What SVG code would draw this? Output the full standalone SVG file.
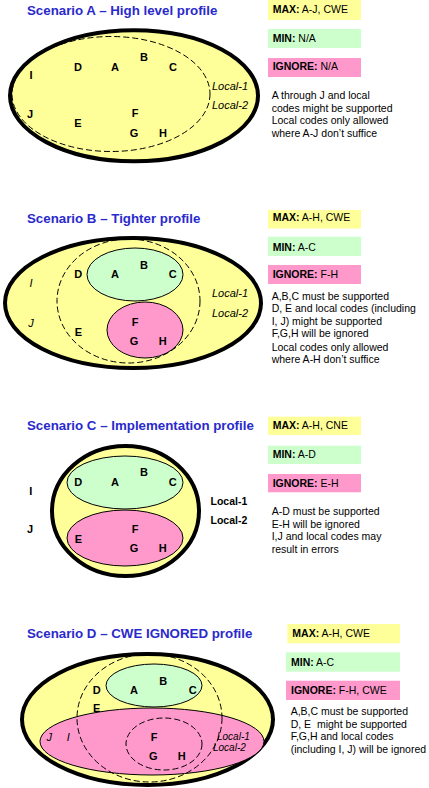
<svg xmlns="http://www.w3.org/2000/svg" width="429" height="788" viewBox="0 0 429 788">
<style>
text{font-family:"Liberation Sans",Arial,sans-serif;fill:#000}
.title{font-size:13.3px;font-weight:bold;fill:#2A2ACC}
.lt{font-size:11px;font-weight:bold;text-anchor:middle}
.it{font-size:11px;font-style:italic;font-weight:normal;text-anchor:middle}
.loc{font-size:11px;font-style:italic}
.locd{font-size:10px;font-style:italic}
.locb{font-size:10.5px;font-weight:bold}
.bx{font-size:10.5px}
.bx tspan.k{font-weight:bold}
.p{font-size:10.5px}
.outer{fill:#FFFF99;stroke:#000;stroke-width:4}
.grn{fill:#CCFFCC;stroke:#000;stroke-width:1}
.pnk{fill:#FF99CC;stroke:#000;stroke-width:1}
.dash{fill:none;stroke:#000;stroke-width:1;stroke-dasharray:6 3}
.bmax{fill:#FFFF99}
.bmin{fill:#CCFFCC}
.bign{fill:#FF99CC}
</style>
<g id="connectors"/>

<!-- Scenario A -->
<g id="scenarioA">
<text class="title" x="27" y="14.5">Scenario A – High level profile</text>
<ellipse class="outer" cx="134" cy="95.8" rx="124" ry="65.5"/>
<ellipse class="dash" cx="111" cy="94" rx="99" ry="57.5"/>
<text class="lt" x="78" y="71">D</text>
<text class="lt" x="115" y="71">A</text>
<text class="lt" x="144" y="61">B</text>
<text class="lt" x="173" y="71">C</text>
<text class="lt" x="31" y="79">I</text>
<text class="lt" x="30" y="118">J</text>
<text class="lt" x="78" y="127">E</text>
<text class="lt" x="135" y="117">F</text>
<text class="lt" x="134" y="137">G</text>
<text class="lt" x="163" y="137">H</text>
<text class="loc" x="212" y="90">Local-1</text>
<text class="loc" x="212" y="109">Local-2</text>
</g>
<g id="legendA">
<rect class="bmax" x="268" y="0" width="93" height="20"/>
<text class="bx" x="272.7" y="13"><tspan class="k">MAX:</tspan> A-J, CWE</text>
<rect class="bmin" x="268" y="29" width="93" height="19"/>
<text class="bx" x="272.7" y="42"><tspan class="k">MIN:</tspan> N/A</text>
<rect class="bign" x="268" y="58" width="93" height="19"/>
<text class="bx" x="272.7" y="70"><tspan class="k">IGNORE:</tspan> N/A</text>
<text class="p" x="271.7" y="98.8">A through J and local</text>
<text class="p" x="271.7" y="111.5">codes might be supported</text>
<text class="p" x="271.7" y="124.2">Local codes only allowed</text>
<text class="p" x="271.7" y="136.9">where A-J don’t suffice</text>
</g>

<!-- Scenario B -->
<g id="scenarioB">
<text class="title" x="27" y="223">Scenario B – Tighter profile</text>
<ellipse class="outer" cx="133" cy="303" rx="128" ry="65"/>
<ellipse class="dash" cx="128.5" cy="301" rx="71.5" ry="62"/>
<ellipse class="grn" cx="135" cy="274.5" rx="48" ry="26.5"/>
<ellipse class="pnk" cx="145" cy="330" rx="38" ry="28"/>
<text class="lt" x="78.3" y="278">D</text>
<text class="lt" x="115" y="278">A</text>
<text class="lt" x="144" y="268.5">B</text>
<text class="lt" x="172.7" y="278">C</text>
<text class="it" x="31" y="287">I</text>
<text class="it" x="31" y="326.5">J</text>
<text class="lt" x="78.3" y="335.5">E</text>
<text class="lt" x="135" y="325.5">F</text>
<text class="lt" x="134" y="344.5">G</text>
<text class="lt" x="162.7" y="344.5">H</text>
<text class="loc" x="212" y="297">Local-1</text>
<text class="loc" x="212" y="316.5">Local-2</text>
</g>
<g id="legendB">
<rect class="bmax" x="268" y="210" width="93" height="18.5"/>
<text class="bx" x="272.7" y="221"><tspan class="k">MAX:</tspan> A-H, CWE</text>
<rect class="bmin" x="268" y="236.7" width="93" height="19.3"/>
<text class="bx" x="272.7" y="250.5"><tspan class="k">MIN:</tspan> A-C</text>
<rect class="bign" x="268" y="265" width="93" height="19"/>
<text class="bx" x="272.7" y="278"><tspan class="k">IGNORE:</tspan> F-H</text>
<text class="p" x="271.7" y="299.5">A,B,C must be supported</text>
<text class="p" x="271.7" y="312">D, E and local codes (including</text>
<text class="p" x="271.7" y="324.5">I, J) might be supported</text>
<text class="p" x="271.7" y="337">F,G,H will be ignored</text>
<text class="p" x="271.7" y="350.5">Local codes only allowed</text>
<text class="p" x="271.7" y="363">where A-H don’t suffice</text>
</g>

<!-- Scenario C -->
<g id="scenarioC">
<text class="title" x="27" y="430">Scenario C – Implementation profile</text>
<ellipse class="outer" cx="125.5" cy="511" rx="73.5" ry="65"/>
<ellipse class="grn" cx="125" cy="482.5" rx="58" ry="26.5"/>
<ellipse class="pnk" cx="125" cy="538" rx="58" ry="28"/>
<text class="lt" x="78.3" y="486.3">D</text>
<text class="lt" x="115" y="486.3">A</text>
<text class="lt" x="144" y="476.3">B</text>
<text class="lt" x="172.7" y="486.3">C</text>
<text class="lt" x="30.7" y="494.7">I</text>
<text class="lt" x="30" y="533.3">J</text>
<text class="lt" x="78.3" y="543">E</text>
<text class="lt" x="135" y="533.3">F</text>
<text class="lt" x="134" y="552.3">G</text>
<text class="lt" x="162.7" y="552.3">H</text>
<text class="locb" x="210.5" y="504.5">Local-1</text>
<text class="locb" x="210.5" y="524">Local-2</text>
</g>
<g id="legendC">
<rect class="bmax" x="268" y="416.7" width="93" height="18.3"/>
<text class="bx" x="272.7" y="429"><tspan class="k">MAX:</tspan> A-H, CNE</text>
<rect class="bmin" x="268" y="445.7" width="93" height="18.3"/>
<text class="bx" x="272.7" y="458"><tspan class="k">MIN:</tspan> A-D</text>
<rect class="bign" x="268" y="474" width="93" height="18.3"/>
<text class="bx" x="272.7" y="486.5"><tspan class="k">IGNORE:</tspan> E-H</text>
<text class="p" x="271.7" y="514.8">A-D must be supported</text>
<text class="p" x="271.7" y="527.6">E-H will be ignored</text>
<text class="p" x="271.7" y="540.4">I,J and local codes may</text>
<text class="p" x="271.7" y="553.2">result in errors</text>
</g>

<!-- Scenario D -->
<g id="scenarioD">
<text class="title" x="27" y="638">Scenario D – CWE IGNORED profile</text>
<ellipse class="outer" cx="147.5" cy="719.5" rx="125.5" ry="65.5"/>
<ellipse class="grn" cx="154" cy="685.5" rx="48" ry="21.5"/>
<ellipse class="pnk" cx="152" cy="741.5" rx="112" ry="33.5"/>
<ellipse class="dash" cx="149.5" cy="718" rx="72.5" ry="64"/>
<ellipse class="dash" cx="164" cy="744" rx="38" ry="26"/>
<text class="lt" x="96.7" y="694">D</text>
<text class="lt" x="134" y="694">A</text>
<text class="lt" x="163.3" y="684.7">B</text>
<text class="lt" x="192.7" y="694">C</text>
<text class="lt" x="96.7" y="712.3">E</text>
<text class="it" x="49.3" y="741.3">J</text>
<text class="it" x="68.3" y="741.3">I</text>
<text class="lt" x="154" y="741.3">F</text>
<text class="lt" x="153.3" y="760">G</text>
<text class="lt" x="181.7" y="760">H</text>
<text class="locd" x="217" y="739.5">Local-1</text>
<text class="locd" x="213" y="750.5">Local-2</text>
</g>
<g id="legendD">
<rect class="bmax" x="287.3" y="624" width="112.7" height="19.3"/>
<text class="bx" x="292.3" y="637"><tspan class="k">MAX:</tspan> A-H, CWE</text>
<rect class="bmin" x="286" y="652.3" width="114" height="19.4"/>
<text class="bx" x="291" y="665.5"><tspan class="k">MIN:</tspan> A-C</text>
<rect class="bign" x="286" y="680.7" width="114" height="19.3"/>
<text class="bx" x="291" y="694"><tspan class="k">IGNORE:</tspan> F-H, CWE</text>
<text class="p" x="290.7" y="714.8">A,B,C must be supported</text>
<text class="p" x="290.7" y="727.6" style="white-space:pre">D, E  might be supported</text>
<text class="p" x="290.7" y="740.4">F,G,H and local codes</text>
<text class="p" x="290.7" y="753.2">(including I, J) will be ignored</text>
</g>
</svg>
